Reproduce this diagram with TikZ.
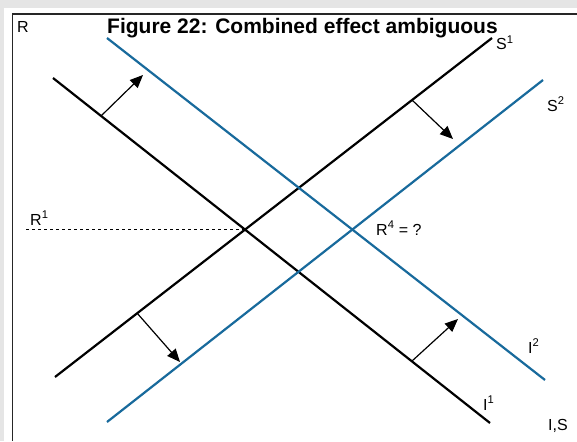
\documentclass[tikz,border=0pt]{standalone}
\usepackage{fontspec}
\setmainfont{Liberation Sans}
\usetikzlibrary{arrows.meta}
\definecolor{shiftblue}{RGB}{24,106,156}
\definecolor{pagegray}{RGB}{229,229,229}

\begin{document}
\begin{tikzpicture}[
    x=1pt, y=-1pt,
    oldcurve/.style={line width=2.2pt, black},
    newcurve/.style={line width=2.2pt, shiftblue},
    shiftarrow/.style={line width=1.2pt, -{Triangle[length=13pt, width=11pt]}},
    lbl/.style={anchor=base west, inner sep=0pt, font=\fontsize{16}{19}\selectfont}
]
\useasboundingbox (0,0) rectangle (577,441);

% Frame
\fill[pagegray] (0,0) rectangle (577,441);
\fill[white] (4,8) rectangle (577,441);
\draw[line width=1.5pt, black!85] (12.5,441) -- (12.5,14) -- (577,14);

% Curve end points
\coordinate (i1_start) at (53,78);
\coordinate (i1_end) at (490,423);
\coordinate (s1_start) at (55,377);
\coordinate (s1_end) at (492,38);
\coordinate (i2_start) at (107,38);
\coordinate (i2_end) at (545,380);
\coordinate (s2_start) at (107,422);
\coordinate (s2_end) at (543,80);
\coordinate (eq_old) at (intersection of i1_start--i1_end and s1_start--s1_end);
\coordinate (r1_start) at (26,230);

% Curves
\draw[oldcurve] (i1_start) -- (i1_end);
\draw[oldcurve] (s1_start) -- (s1_end);
\draw[newcurve] (i2_start) -- (i2_end);
\draw[newcurve] (s2_start) -- (s2_end);
\draw[line width=1.7pt, dash pattern=on 2.5pt off 3.5pt] (r1_start |- eq_old) -- (eq_old);

% Shift arrows
\coordinate (a1_base) at (101,116);
\coordinate (a1_tip) at (143,75);
\coordinate (a2_base) at (412,100);
\coordinate (a2_tip) at (453,139);
\coordinate (a3_base) at (137,313);
\coordinate (a3_tip) at (180,362);
\coordinate (a4_base) at (412,361);
\coordinate (a4_tip) at (458,319);
\draw[shiftarrow] (a1_base) -- (a1_tip);
\draw[shiftarrow] (a2_base) -- (a2_tip);
\draw[shiftarrow] (a3_base) -- (a3_tip);
\draw[shiftarrow] (a4_base) -- (a4_tip);

% Labels
\node[lbl] (r_axis) at (17,33) {R};
\node[lbl] (is_axis) at (548,430) {I,S};
\node[lbl] (r1_lbl) at (30,225) {R\textsuperscript{1}};
\node[lbl] (r4_lbl) at (376,235) {R\textsuperscript{4} = ?};
\node[lbl] (s1_lbl) at (496,50) {S\textsuperscript{1}};
\node[lbl] (s2_lbl) at (547,111) {S\textsuperscript{2}};
\node[lbl] (i2_lbl) at (528,353) {I\textsuperscript{2}};
\node[lbl] (i1_lbl) at (483,410) {I\textsuperscript{1}};
\node[anchor=base west, inner sep=0pt, font=\bfseries\fontsize{21}{25}\selectfont] (title) at (107,34) {Figure 22: Combined effect ambiguous};

\end{tikzpicture}
\end{document}
